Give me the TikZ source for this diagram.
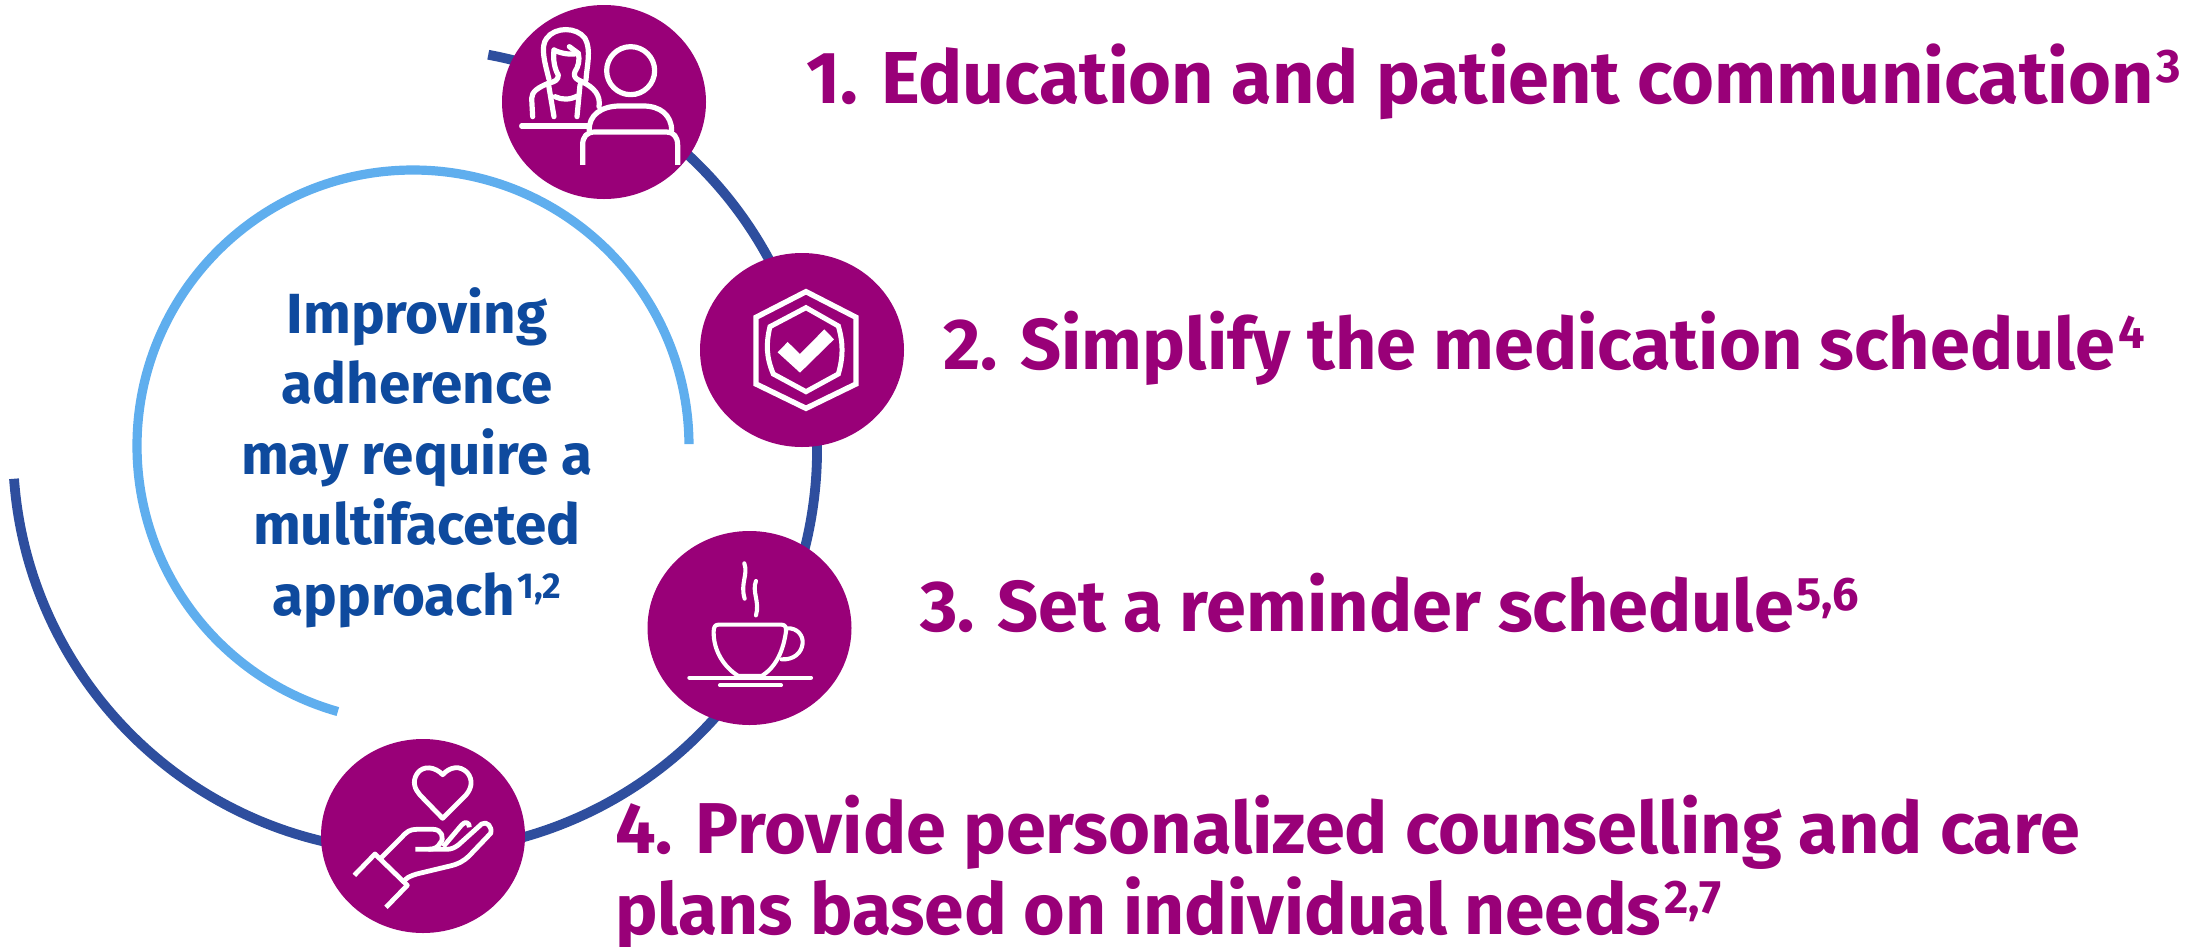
\documentclass[tikz,border=0pt]{standalone}
\usepackage{fontspec}
\setmainfont{Fira Sans}
\usetikzlibrary{shapes.geometric}
\definecolor{plum}{HTML}{990078}
\definecolor{ringdark}{HTML}{2E4E9E}
\definecolor{ringlight}{HTML}{5FAEEE}
\definecolor{txtblue}{HTML}{0E4A9E}
\newcommand{\supr}[1]{\hspace{3pt}\raisebox{21pt}{\fontsize{47}{47}\selectfont #1}}
\newcommand{\supc}[1]{\hspace{2pt}\raisebox{17pt}{\fontsize{36}{36}\selectfont #1}}
\begin{document}
\begin{tikzpicture}[x=1pt,y=1pt,
  badge/.style={ellipse,fill=plum,draw=none,minimum width=204pt,minimum height=194pt,inner sep=0pt},
  step title/.style={anchor=base west,text=plum,font=\fontsize{72}{80}\selectfont\bfseries,inner sep=0pt},
  icon/.style={draw=white,line width=5.2pt,fill=none,line cap=round,line join=round},
  iconthin/.style={draw=white,line width=4.1pt,fill=none,line cap=round,line join=round}]
\useasboundingbox (0,0) rectangle (2190,-946);
\coordinate (ringc) at (415,-450);
\coordinate (innerc) at (413,-446);
\draw[ringdark,line width=9.8pt] (ringc) ++(79.5:402pt) arc[start angle=79.5,end angle=-175.9,radius=402pt];
\draw[ringlight,line width=9.2pt] (innerc) ++(0.4:276pt) arc[start angle=0.4,end angle=254.2,radius=276pt];
\node[badge] (b1) at (604,-102) {};
\node[badge] (b2) at (802,-350) {};
\node[badge] (b3) at (749.5,-628) {};
\node[badge] (b4) at (423,-836) {};
% icon 1
\begin{scope}[shift={(480pt,0pt)},x=0.3333pt,y=-0.3333pt]
\draw[icon] (207,238) .. controls (195,190) and (180,140) .. (200,115) .. controls (225,80) and (290,80) .. (315,115) .. controls (335,150) and (320,200) .. (318,240);
\draw[icon] (222,150) .. controls (245,162) and (275,165) .. (295,160) .. controls (300,180) and (295,200) .. (285,215) .. controls (280,225) and (285,235) .. (295,240);
\draw[icon] (268,140) -- (295,160);
\draw[icon] (222,150) .. controls (218,180) and (225,210) .. (235,225) .. controls (235,240) and (225,245) .. (205,250) .. controls (175,262) and (155,275) .. (155,295) -- (158,350);
\draw[icon] (205,250) -- (222,350);
\draw[icon] (295,240) .. controls (330,255) and (358,275) .. (358,310) -- (357,320);
\draw[icon] (300,255) -- (291,350);
\draw[icon] (225,290) .. controls (245,300) and (270,300) .. (292,288);
\draw[icon] (125,378) -- (322,378);
\draw[icon] (452,212) circle[radius=72];
\draw[icon] (328,392) .. controls (325,345) and (365,318) .. (420,318) -- (490,318) .. controls (540,318) and (575,345) .. (575,392);
\draw[icon,line cap=butt] (308,495) -- (308,435) .. controls (308,410) and (320,396) .. (345,396) -- (560,396) .. controls (580,396) and (593,410) .. (593,435) -- (593,495);
\end{scope}
% icon 2
\begin{scope}[shift={(680pt,-240pt)},x=0.3333pt,y=-0.3333pt]
\draw[draw=white,line width=5.4pt,line join=miter] (378,155) -- (528,232) -- (528,432) -- (378,505) -- (228,432) -- (228,232) -- cycle;
\draw[draw=white,line width=5pt,line join=miter] (378,203) -- (475,258) .. controls (490,310) and (490,350) .. (475,402) -- (378,455) -- (280,402) .. controls (258,350) and (258,310) .. (270,260) -- cycle;
\fill[white] (293,337) -- (323,306) -- (360,342) -- (433,268) -- (462,298) -- (360,398) -- cycle;
\end{scope}
% icon 3
\begin{scope}[shift={(630pt,-520pt)},x=0.3333pt,y=-0.3333pt]
\draw[iconthin] (343,130) .. controls (355,165) and (330,190) .. (344,236);
\draw[iconthin] (378,183) .. controls (365,215) and (390,245) .. (378,286);
\draw[iconthin] (265,314) -- (455,314) .. controls (465,314) and (470,322) .. (468,335) .. controls (460,390) and (440,440) .. (395,468) -- (325,468) .. controls (280,440) and (250,390) .. (251,335) .. controls (251,322) and (255,314) .. (265,314) -- cycle;
\draw[iconthin] (469,325) .. controls (505,322) and (520,350) .. (518,370) .. controls (515,400) and (490,420) .. (455,418);
\draw[iconthin] (178,473) -- (543,473);
\draw[iconthin] (270,496) -- (453,496);
\end{scope}
% icon 4
\begin{scope}[shift={(310pt,-730pt)},x=0.3333pt,y=-0.3333pt]
\draw[icon,line width=4.8pt,line cap=butt] (398,134) .. controls (375,110) and (340,105) .. (322,130) .. controls (305,155) and (315,178) .. (330,195) -- (398,265) -- (468,195) .. controls (485,175) and (490,150) .. (472,128) .. controls (450,105) and (420,110) .. (398,134) -- cycle;
\draw[icon,line width=4.8pt,line cap=butt] (133,436) -- (195,372) -- (292,466) -- (228,532);
\draw[icon,line width=4.8pt,line cap=butt] (215,382) -- (275,322) .. controls (290,305) and (300,298) .. (320,298) -- (370,298) .. controls (395,298) and (405,325) .. (390,340) .. controls (385,350) and (375,358) .. (355,358) -- (316,358);
\draw[icon,line width=4.8pt,line cap=butt] (355,358) -- (410,358) .. controls (425,358) and (435,352) .. (445,345) -- (515,282) .. controls (530,272) and (548,290) .. (542,310) -- (480,375) .. controls (460,395) and (445,402) .. (420,408) -- (320,432) .. controls (300,438) and (285,445) .. (280,458);
\draw[icon,line width=4.8pt,line cap=butt] (400,350) -- (455,285) .. controls (465,272) and (480,278) .. (478,292);
\end{scope}
\node[anchor=base,text=txtblue,align=center,font=\fontsize{56.6}{70.5}\selectfont\bfseries,inner sep=0pt] (centre) at (417,-615) {Improving\\adherence\\may require a\\multifaceted\\approach\supc{1,2}};
\node[step title,font=\fontsize{73.6}{80}\selectfont\bfseries] (t1) at (806,-103) {1. Education and patient communication\supr{3}};
\node[step title] (t2) at (943,-369) {2. Simplify the medication schedule\supr{4}};
\node[step title] (t3) at (920,-631) {3. Set a reminder schedule\supr{5,6}};
\node[step title] (t4) at (615,-853) {4. Provide personalized counselling and care};
\node[step title,font=\fontsize{71.3}{80}\selectfont\bfseries] (t5) at (615,-934) {plans based on individual needs\supr{2,7}};
\end{tikzpicture}
\end{document}
